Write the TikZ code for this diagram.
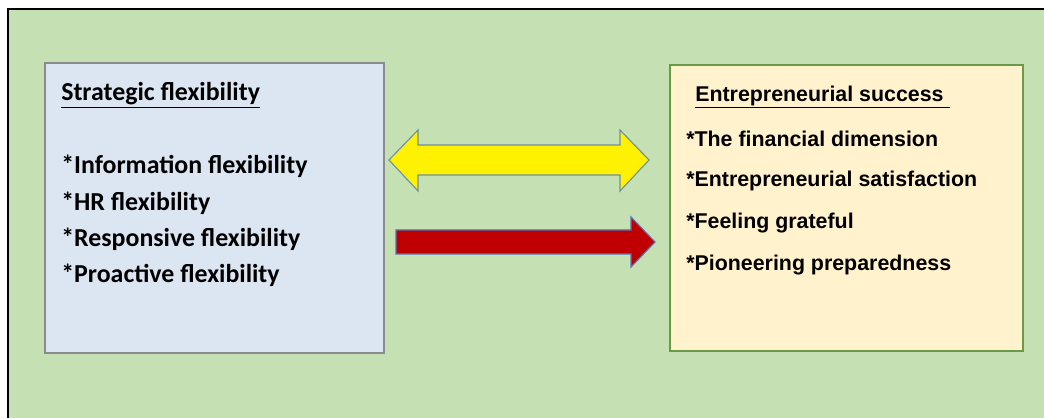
\documentclass[tikz,border=0pt]{standalone}
\usepackage{fontspec}
\setmainfont{Carlito}
\newfontfamily\arialfont{Liberation Sans}
\usepackage{xcolor}
\usetikzlibrary{arrows.meta,calc,positioning}
\definecolor{bggreen}{HTML}{C5E0B3}
\definecolor{paleblue}{HTML}{DCE6F2}
\definecolor{palecream}{HTML}{FFF2CC}
\definecolor{boxgreen}{HTML}{6A9A48}
\definecolor{arrowedge}{HTML}{6F8FA3}
\definecolor{darkred}{HTML}{C00000}
\tikzset{
  bluecard/.style={draw=black!45,line width=0.9pt,fill=paleblue,minimum width=8.475cm,minimum height=7.25cm},
  creamcard/.style={draw=boxgreen,line width=1.1pt,fill=palecream,minimum width=8.825cm,minimum height=7.15cm},
  lefttext/.style={anchor=west,inner sep=0pt,font=\fontsize{18.4}{21}\selectfont\bfseries},
  righttext/.style={anchor=west,inner sep=0pt,font=\arialfont\fontsize{15.2}{18}\selectfont\bfseries},
  twoway/.style={draw=arrowedge,line width=0.8pt,fill=yellow},
  oneway/.style={draw=arrowedge!80!blue,line width=0.8pt,fill=darkred}
}
\begin{document}
\begin{tikzpicture}[x=0.025cm,y=-0.025cm]
  \useasboundingbox (0,0) rectangle (1044,418);
  \fill[bggreen] (8,9) rectangle (1044,418);
  \draw[line width=1.3pt,black] (8,418)--(8,9)--(1044,9);
  % the two boxes
  \node[bluecard] (sf) at (214.5,208) {};
  \node[creamcard] (es) at (846.5,208) {};
  % left texts
  \node[lefttext] (sfhead) at (61,95) {\underline{Strategic flexibility}};
  \node[lefttext] (sfa) at (61,166) {*Information flexibility};
  \node[lefttext] (sfb) at (61,203) {*HR flexibility};
  \node[lefttext] (sfc) at (61,239) {*Responsive flexibility};
  \node[lefttext] (sfd) at (61,275) {*Proactive flexibility};
  % right texts
  \node[righttext] (eshead) at (695,97) {\underline{Entrepreneurial success\ }};
  \node[righttext] (esa) at (686,139) {*The financial dimension};
  \node[righttext] (esb) at (686,181) {*Entrepreneurial satisfaction};
  \node[righttext] (esc) at (686,223) {*Feeling grateful};
  \node[righttext] (esd) at (686,265) {*Pioneering preparedness};
  % block arrows
  \draw[twoway] (389,160)--(418,130)--(418,145)--(620,145)--(620,130)--(649,160)
    --(620,191)--(620,175)--(418,175)--(418,191)--cycle;
  \draw[oneway] (396,230)--(631,230)--(631,217)--(655,242)--(631,267)--(631,254)--(396,254)--cycle;
\end{tikzpicture}
\end{document}
